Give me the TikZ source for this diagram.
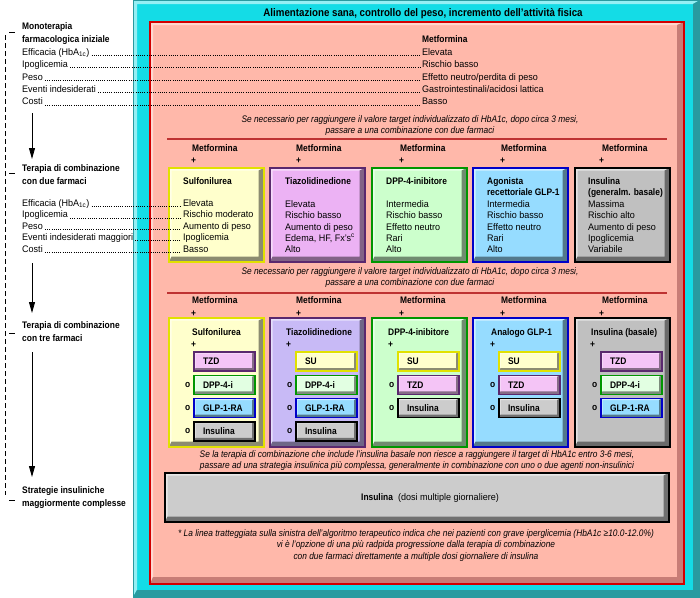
\documentclass[tikz,border=0pt]{standalone}
\usepackage{fontspec}
\setmainfont{Liberation Sans}[UprightFeatures={FakeStretch=0.95}, BoldFeatures={FakeStretch=0.885}, ItalicFeatures={FakeStretch=0.88}]
\usepackage{tikz}
\usepackage{tkz-euclide}
\usetikzlibrary{positioning,arrows.meta}

%Cores usadas no algoritmo (moldura, painel, caixas dos farmacos)
\definecolor{ciano}{RGB}{20,220,230}
\definecolor{cianoscuro}{RGB}{40,155,160}
\definecolor{rosa}{RGB}{255,184,170}
\definecolor{rosascuro}{RGB}{200,125,118}
\definecolor{rosso}{RGB}{210,0,0}
\definecolor{rossolinea}{RGB}{190,50,50}
\definecolor{giallo}{RGB}{255,255,204}
\definecolor{giallobordo}{RGB}{225,225,0}
\definecolor{viola}{RGB}{236,178,244}
\definecolor{lilla}{RGB}{200,186,246}
\definecolor{violabordo}{RGB}{90,40,110}
\definecolor{verde}{RGB}{204,255,204}
\definecolor{verdechiaro}{RGB}{226,255,226}
\definecolor{verdebordo}{RGB}{0,150,0}
\definecolor{azzurro}{RGB}{150,220,255}
\definecolor{blu}{RGB}{0,0,200}
\definecolor{grigio}{RGB}{192,192,192}
\definecolor{grigiochiaro}{RGB}{204,204,204}
\definecolor{tzd}{RGB}{244,196,246}

%Estilos: o "smusso" desenha o relevo (claro em cima/esquerda, escuro embaixo/direita)
\tikzset{
smusso/.style n args={4}{path picture={
 \fill[#3] (path picture bounding box.south west) -- (path picture bounding box.north west)
  -- (path picture bounding box.north east) -- ([shift={(-#2,-#1)}]path picture bounding box.north east)
  -- ([shift={(#1,-#1)}]path picture bounding box.north west) -- ([shift={(#1,#2)}]path picture bounding box.south west) -- cycle;
 \fill[#4] (path picture bounding box.south west) -- (path picture bounding box.south east)
  -- (path picture bounding box.north east) -- ([shift={(-#2,-#1)}]path picture bounding box.north east)
  -- ([shift={(-#2,#2)}]path picture bounding box.south east) -- ([shift={(#1,#2)}]path picture bounding box.south west) -- cycle;
}},
riquadro/.style n args={2}{anchor=north west, inner sep=0pt, outer sep=0pt, minimum width=95pt, fill=#1, draw=#2, line width=1.4pt, smusso={2.5pt}{5.5pt}{#1!45!white}{#1!55!black}},
farmaco/.style n args={2}{anchor=north west, minimum width=61pt, minimum height=19pt, inner sep=0pt, inner xsep=9pt, outer sep=0pt, text width=43pt, align=left, fill=#1, draw=#2, line width=1.4pt, smusso={1.5pt}{3pt}{#1!45!white}{#1!55!black}, font=\fontsize{9.5}{11}\selectfont\bfseries},
testo/.style={inner sep=0pt, text height=7pt, text depth=2pt, font=\fontsize{9.5}{11.4}\selectfont},
grassetto/.style={testo, font=\fontsize{9.5}{11.4}\selectfont\bfseries},
blocco/.style={inner sep=0pt, align=left, anchor=north west, font=\fontsize{9.5}{11.4}\selectfont},
capitolo/.style={blocco, font=\fontsize{9.5}{12.5}\selectfont\bfseries},
nota/.style={inner sep=0pt, align=center, font=\fontsize{9.5}{11.4}\selectfont\itshape},
puntini/.style={line width=0.7pt, dash pattern=on 0.7pt off 1.5pt, shorten >=2pt, shorten <=2pt},
separatore/.style={draw=rossolinea, line width=1.6pt},
freccia/.style={line width=0.8pt, -{Triangle[length=11pt,width=6pt]}},
tratteggio/.style={line width=0.7pt, dash pattern=on 5pt off 3pt}
}

\begin{document}
\begin{tikzpicture}[x=1pt,y=-1pt]

\useasboundingbox (0,0) rectangle (700,597);

%O comando \tkzDefPoints define os pontos fixos (x/y/NomedoPonto), em pontos, com y para baixo
\tkzDefPoints{
133/0/C,
150/22/P,
5/35/T1,
5/495/T2,
9/32/K1,
15/32/K2,
9/173/K3,
15/173/K4,
9/333/K5,
15/333/K6,
9/500/K7,
15/500/K8,
32/113/F1,
32/159/F2,
32/263/F3,
32/313/F4,
32/352/F5,
32/477/F6,
167/139/R1,
667/139/R2,
167/293/R3,
667/293/R4}

%Moldura ciano com o titulo e painel rosa com borda vermelha
%---------------------------------------------------
\node[anchor=north west, inner sep=0pt, outer sep=0pt, minimum width=567pt, minimum height=597pt, fill=ciano, draw=cianoscuro, line width=1pt, smusso={4pt}{7pt}{ciano!45!white}{cianoscuro}] (cornice) at (C) {};
\node[grassetto, font=\fontsize{11}{13}\selectfont\bfseries] (titolo) at (423,14) {Alimentazione sana, controllo del peso, incremento dell'attività fisica};
\node[anchor=north west, inner sep=0pt, outer sep=0pt, minimum width=534pt, minimum height=562pt, fill=rosa, draw=rosso, line width=1.3pt, smusso={3pt}{7pt}{rosa!55!white}{rosascuro}] (pannello) at (P) {};
%---------------------------------------------------

%Coluna da esquerda: etapas, linha tracejada e setas
%---------------------------------------------------
\draw[tratteggio] (T1)--(T2);
\draw[line width=0.8pt] (K1)--(K2);
\draw[line width=0.8pt] (K3)--(K4);
\draw[line width=0.8pt] (K5)--(K6);
\draw[line width=0.8pt] (K7)--(K8);
\draw[freccia] (F1)--(F2);
\draw[freccia] (F3)--(F4);
\draw[freccia] (F5)--(F6);
\node[capitolo] (c1) at (22,22.5) {Monoterapia\\farmacologica iniziale};
\node[capitolo] (c2) at (22,164.5) {Terapia di combinazione\\con due farmaci};
\node[capitolo] (c3) at (22,321.5) {Terapia di combinazione\\con tre farmaci};
\node[capitolo] (c4) at (22,486.5) {Strategie insuliniche\\maggiormente complesse};
%---------------------------------------------------

%Monoterapia: rotulos, metformina e linhas pontilhadas
%---------------------------------------------------
\node[testo, anchor=base west] (e11) at (22,55.3) {Efficacia (HbA\textsubscript{1c})};
\node[testo, anchor=base west] (e12) at (22,67.7) {Ipoglicemia};
\node[testo, anchor=base west] (e13) at (22,80.1) {Peso};
\node[testo, anchor=base west] (e14) at (22,92.5) {Eventi indesiderati};
\node[testo, anchor=base west] (e15) at (22,104.9) {Costi};
\node[grassetto, anchor=base west] (m1) at (422,42.3) {Metformina};
\node[testo, anchor=base west] (v11) at (422,55.3) {Elevata};
\node[testo, anchor=base west] (v12) at (422,67.7) {Rischio basso};
\node[testo, anchor=base west] (v13) at (422,80.1) {Effetto neutro/perdita di peso};
\node[testo, anchor=base west] (v14) at (422,92.5) {Gastrointestinali/acidosi lattica};
\node[testo, anchor=base west] (v15) at (422,104.9) {Basso};
\draw[puntini] (e11.base east)--(v11.base west);
\draw[puntini] (e12.base east)--(v12.base west);
\draw[puntini] (e13.base east)--(v13.base west);
\draw[puntini] (e14.base east)--(v14.base west);
\draw[puntini] (e15.base east)--(v15.base west);
\node[nota] (n1) at (410,125.5) {Se necessario per raggiungere il valore target individualizzato di HbA1c, dopo circa 3 mesi,\\passare a una combinazione con due farmaci};
\draw[separatore] (R1)--(R2);
%---------------------------------------------------

%Terapia con due farmaci: metformina + cinque caixas
%---------------------------------------------------
\node[grassetto, anchor=base west] (m21) at (192,151.3) {Metformina};
\node[grassetto, anchor=base west] (m22) at (296,151.3) {Metformina};
\node[grassetto, anchor=base west] (m23) at (400,151.3) {Metformina};
\node[grassetto, anchor=base west] (m24) at (501,151.3) {Metformina};
\node[grassetto, anchor=base west] (m25) at (602,151.3) {Metformina};
\node[grassetto, anchor=base west] (p21) at (191,163.3) {+};
\node[grassetto, anchor=base west] (p22) at (296,163.3) {+};
\node[grassetto, anchor=base west] (p23) at (399,163.3) {+};
\node[grassetto, anchor=base west] (p24) at (500,163.3) {+};
\node[grassetto, anchor=base west] (p25) at (599,163.3) {+};
\node[riquadro={giallo}{giallobordo}, minimum height=94pt] (b21) at (169,168) {};
\node[riquadro={viola}{violabordo}, minimum height=94pt] (b22) at (270,168) {};
\node[riquadro={verde}{verdebordo}, minimum height=94pt] (b23) at (372,168) {};
\node[riquadro={azzurro}{blu}, minimum height=94pt] (b24) at (473,168) {};
\node[riquadro={grigio}{black}, minimum height=94pt] (b25) at (575,168) {};

%Caixa da sulfonilureia (ligada aos rotulos da esquerda)
\node[grassetto, anchor=base west] (s21) at (183,184.3) {Sulfonilurea};
\node[testo, anchor=base west] (v21) at (183,206.5) {Elevata};
\node[testo, anchor=base west] (v22) at (183,217.9) {Rischio moderato};
\node[testo, anchor=base west] (v23) at (183,229.3) {Aumento di peso};
\node[testo, anchor=base west] (v24) at (183,240.7) {Ipoglicemia};
\node[testo, anchor=base west] (v25) at (183,252.1) {Basso};
\node[testo, anchor=base west] (e21) at (22,206.5) {Efficacia (HbA\textsubscript{1c})};
\node[testo, anchor=base west] (e22) at (22,217.9) {Ipoglicemia};
\node[testo, anchor=base west] (e23) at (22,229.3) {Peso};
\node[testo, anchor=base west] (e24) at (22,240.7) {Eventi indesiderati maggiori};
\node[testo, anchor=base west] (e25) at (22,252.1) {Costi};
\draw[puntini] (e21.base east)--(v21.base west);
\draw[puntini] (e22.base east)--(v22.base west);
\draw[puntini] (e23.base east)--(v23.base west);
\draw[puntini] (e24.base east)--(v24.base west);
\draw[puntini] (e25.base east)--(v25.base west);

%Demais caixas
\node[blocco, below right=9.5pt and 15pt of b22.north west] (s22) {\textbf{Tiazolidinedione}\\[11.4pt]Elevata\\Rischio basso\\Aumento di peso\\Edema, HF, Fx's\textsuperscript{c}\\Alto};
\node[blocco, below right=9.5pt and 14pt of b23.north west] (s23) {\textbf{DPP-4-inibitore}\\[11.4pt]Intermedia\\Rischio basso\\Effetto neutro\\Rari\\Alto};
\node[blocco, below right=9.5pt and 14pt of b24.north west] (s24) {\textbf{Agonista}\\\textbf{recettoriale GLP-1}\\Intermedia\\Rischio basso\\Effetto neutro\\Rari\\Alto};
\node[blocco, below right=9.5pt and 13pt of b25.north west] (s25) {\textbf{Insulina}\\\textbf{(generalm. basale)}\\Massima\\Rischio alto\\Aumento di peso\\Ipoglicemia\\Variabile};
\node[nota] (n2) at (410,277.5) {Se necessario per raggiungere il valore target individualizzato di HbA1c, dopo circa 3 mesi,\\passare a una combinazione con due farmaci};
\draw[separatore] (R3)--(R4);
%---------------------------------------------------

%Terapia con tre farmaci
%---------------------------------------------------
\node[grassetto, anchor=base west] (m31) at (192,303.3) {Metformina};
\node[grassetto, anchor=base west] (m32) at (296,303.3) {Metformina};
\node[grassetto, anchor=base west] (m33) at (400,303.3) {Metformina};
\node[grassetto, anchor=base west] (m34) at (501,303.3) {Metformina};
\node[grassetto, anchor=base west] (m35) at (602,303.3) {Metformina};
\node[grassetto, anchor=base west] (p31) at (191,316.3) {+};
\node[grassetto, anchor=base west] (p32) at (296,316.3) {+};
\node[grassetto, anchor=base west] (p33) at (399,316.3) {+};
\node[grassetto, anchor=base west] (p34) at (500,316.3) {+};
\node[grassetto, anchor=base west] (p35) at (599,316.3) {+};
\node[riquadro={giallo}{giallobordo}, minimum height=129pt] (b31) at (169,318) {};
\node[riquadro={lilla}{violabordo}, minimum height=129pt] (b32) at (270,318) {};
\node[riquadro={verde}{verdebordo}, minimum height=129pt] (b33) at (372,318) {};
\node[riquadro={azzurro}{blu}, minimum height=129pt] (b34) at (473,318) {};
\node[riquadro={grigio}{black}, minimum height=129pt] (b35) at (575,318) {};
\node[grassetto, anchor=base west] (t31) at (192,335.3) {Sulfonilurea};
\node[grassetto, anchor=base west] (t32) at (286,335.3) {Tiazolidinedione};
\node[grassetto, anchor=base west] (t33) at (388,335.3) {DPP-4-inibitore};
\node[grassetto, anchor=base west] (t34) at (491,335.3) {Analogo GLP-1};
\node[grassetto, anchor=base west] (t35) at (591,335.3) {Insulina (basale)};
\node[grassetto, anchor=base west] (a31) at (191,347.3) {+};
\node[grassetto, anchor=base west] (a32) at (286,347.3) {+};
\node[grassetto, anchor=base west] (a33) at (388,347.3) {+};
\node[grassetto, anchor=base west] (a34) at (490,347.3) {+};
\node[grassetto, anchor=base west] (a35) at (590,347.3) {+};

%Sulfonilureia + ...
\node[farmaco={tzd}{violabordo}, below right=34pt and 25pt of b31.north west] (q11) {TZD};
\node[farmaco={verdechiaro}{verdebordo}, below=4.3pt of q11] (q12) {DPP-4-i};
\node[farmaco={azzurro}{blu}, below=4.3pt of q12] (q13) {GLP-1-RA};
\node[farmaco={grigiochiaro}{black}, below=4.3pt of q13] (q14) {Insulina};
\node[grassetto, left=3.5pt of q12] (o12) {o};
\node[grassetto, left=3.5pt of q13] (o13) {o};
\node[grassetto, left=3.5pt of q14] (o14) {o};

%Tiazolidinediona + ...
\node[farmaco={giallo}{giallobordo}, below right=34pt and 26pt of b32.north west] (q21) {SU};
\node[farmaco={verdechiaro}{verdebordo}, below=4.3pt of q21] (q22) {DPP-4-i};
\node[farmaco={azzurro}{blu}, below=4.3pt of q22] (q23) {GLP-1-RA};
\node[farmaco={grigiochiaro}{black}, below=4.3pt of q23] (q24) {Insulina};
\node[grassetto, left=3.5pt of q22] (o22) {o};
\node[grassetto, left=3.5pt of q23] (o23) {o};
\node[grassetto, left=3.5pt of q24] (o24) {o};

%DPP-4-inibitore + ...
\node[farmaco={giallo}{giallobordo}, below right=34pt and 26pt of b33.north west] (q31) {SU};
\node[farmaco={tzd}{violabordo}, below=4.3pt of q31] (q32) {TZD};
\node[farmaco={grigiochiaro}{black}, below=4.3pt of q32] (q33) {Insulina};
\node[grassetto, left=3.5pt of q32] (o32) {o};
\node[grassetto, left=3.5pt of q33] (o33) {o};

%Analogo GLP-1 + ...
\node[farmaco={giallo}{giallobordo}, below right=34pt and 26pt of b34.north west] (q41) {SU};
\node[farmaco={tzd}{violabordo}, below=4.3pt of q41] (q42) {TZD};
\node[farmaco={grigiochiaro}{black}, below=4.3pt of q42] (q43) {Insulina};
\node[grassetto, left=3.5pt of q42] (o42) {o};
\node[grassetto, left=3.5pt of q43] (o43) {o};

%Insulina basale + ...
\node[farmaco={tzd}{violabordo}, below right=34pt and 26pt of b35.north west] (q51) {TZD};
\node[farmaco={verdechiaro}{verdebordo}, below=4.3pt of q51] (q52) {DPP-4-i};
\node[farmaco={azzurro}{blu}, below=4.3pt of q52] (q53) {GLP-1-RA};
\node[grassetto, left=3.5pt of q52] (o52) {o};
\node[grassetto, left=3.5pt of q53] (o53) {o};
%---------------------------------------------------

%Estrategias insulinicas e nota de rodape
%---------------------------------------------------
\node[nota] (n3) at (417,460.5) {Se la terapia di combinazione che include l'insulina basale non riesce a raggiungere il target di HbA1c entro 3-6 mesi,\\passare ad una strategia insulinica più complessa, generalmente in combinazione con uno o due agenti non-insulinici};
\node[riquadro={grigiochiaro}{black}, minimum width=504pt, minimum height=49pt] (bI) at (165,473) {};
\node[testo] (tI) at ([xshift=13pt]bI.center) {\textbf{Insulina}\ \ (dosi multiple giornaliere)};
\node[nota] (n4) at (416,545.5) {* La linea tratteggiata sulla sinistra dell'algoritmo terapeutico indica che nei pazienti con grave iperglicemia (HbA1c ≥10.0-12.0\%)\\vi è l'opzione di una più radpida progressione dalla terapia di combinazione\\con due farmaci direttamente a multiple dosi giornaliere di insulina};
%---------------------------------------------------

\end{tikzpicture}
\end{document}
